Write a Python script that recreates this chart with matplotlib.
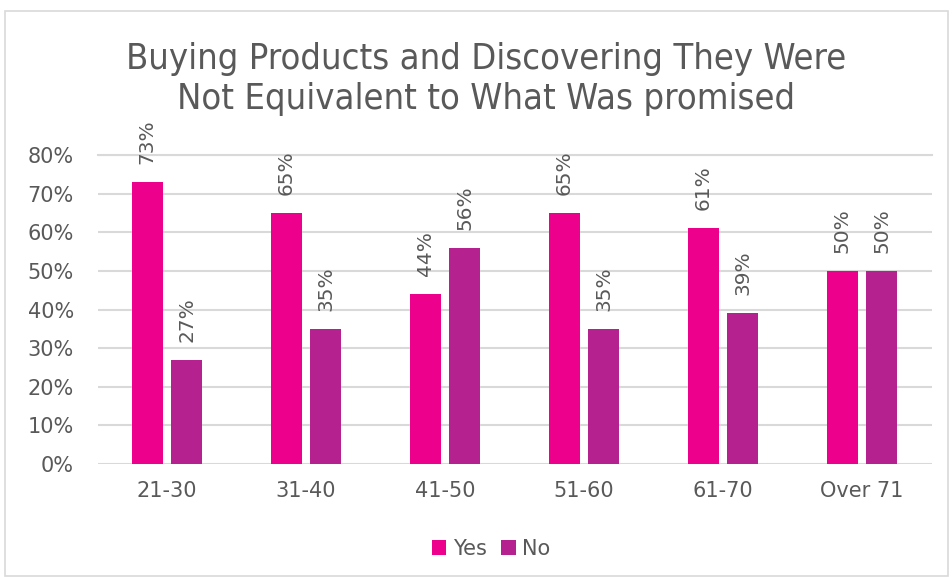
import matplotlib.pyplot as plt
from matplotlib.patches import Rectangle
import numpy as np

# chart data
age_groups = ['21-30', '31-40', '41-50', '51-60', '61-70', 'Over 71']
yes_share = [0.73, 0.65, 0.44, 0.65, 0.61, 0.50]
no_share = [0.27, 0.35, 0.56, 0.35, 0.39, 0.50]
y_ticks = [0, 0.1, 0.2, 0.3, 0.4, 0.5, 0.6, 0.7, 0.8]
title = 'Buying Products and Discovering They Were\nNot Equivalent to What Was promised'

yes_color = '#EC008C'
no_color = '#B5228F'
text_color = '#595959'

plt.rcParams['font.family'] = ['DejaVu Sans']

fig = plt.figure(figsize=(9.52, 5.77), dpi=100)
ax = fig.add_axes([97.5 / 952, 1 - 464 / 577, 834 / 952, 309 / 577])

x = np.arange(len(age_groups))
w = 0.225
off = 0.142
bars_yes = ax.bar(x - off, yes_share, w, color=yes_color, label='Yes', zorder=3)
bars_no = ax.bar(x + off, no_share, w, color=no_color, label='No', zorder=3)

# rotated value labels above each bar
for bars in (bars_yes, bars_no):
    for b in bars:
        ax.annotate(f'{b.get_height():.0%}', (b.get_x() + b.get_width() / 2, b.get_height()),
                    xytext=(0, 13), textcoords='offset points', rotation=90,
                    ha='center', va='bottom', fontsize=14.5, color=text_color,
                    annotation_clip=False)

ax.set_xlim(-0.5, len(age_groups) - 0.5)
ax.set_ylim(0, 0.8)
ax.set_yticks(y_ticks)
ax.set_yticklabels([f'{t:.0%}' for t in y_ticks])
ax.set_xticks(x)
ax.set_xticklabels(age_groups)
ax.tick_params(length=0, labelsize=15, colors=text_color)
ax.tick_params(axis='x', pad=12)
ax.tick_params(axis='y', pad=17)
ax.grid(axis='y', color='#D9D9D9', linewidth=1.5, zorder=0)
ax.set_axisbelow(True)
for s in ax.spines.values():
    s.set_visible(False)
ax.axhline(0.8, color='#D9D9D9', linewidth=1.5, zorder=0, clip_on=False)

fig.text(486 / 952, 1 - 79 / 577, title, ha='center', va='center', fontsize=26,
         color=text_color, linespacing=1.22, fontstretch='condensed')

ax.legend(loc='center', bbox_to_anchor=((491 - 97.5) / 834, -(549 - 464) / 309), ncol=2,
          frameon=False, fontsize=15, labelcolor=text_color, handlelength=0.7,
          handleheight=0.7, handletextpad=0.3, columnspacing=0.7)

fig.patches.append(Rectangle((5 / 952, 0.002), 943 / 952, 1 - 11 / 577 - 0.002,
                             transform=fig.transFigure, fill=False,
                             edgecolor='#D9D9D9', linewidth=1.2))

fig.savefig('out.png', dpi=100)
